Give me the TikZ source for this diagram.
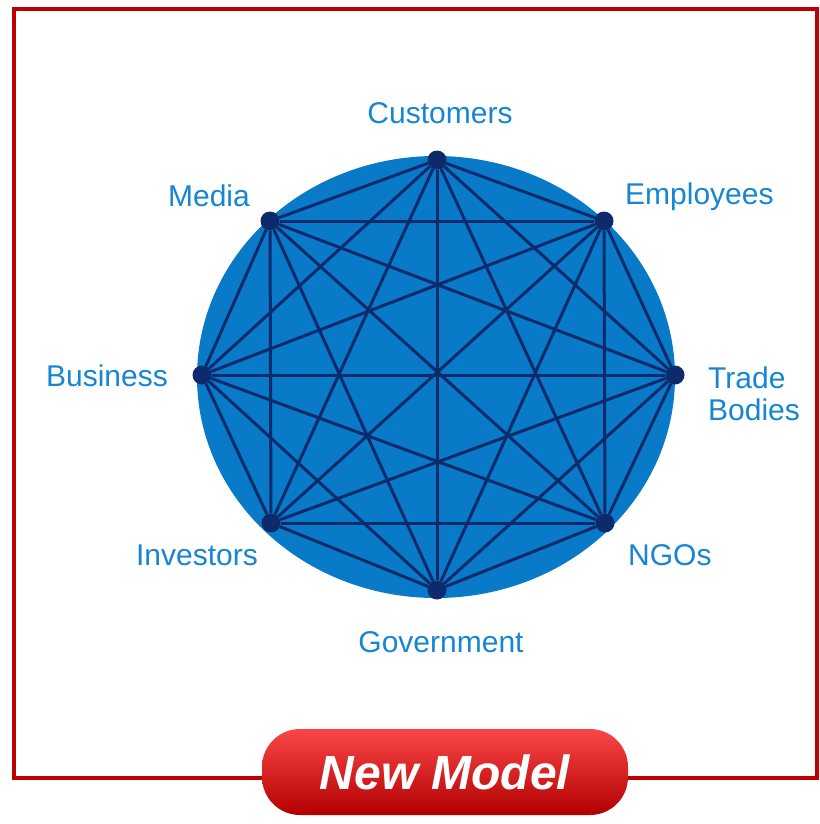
\documentclass[tikz,border=0pt]{standalone}
\usepackage{fontspec}
\setmainfont{Liberation Sans}
\usepackage{tikz}
\usetikzlibrary{shapes.geometric}

\definecolor{framered}{RGB}{190,0,0}
\definecolor{discblue}{RGB}{8,122,200}
\definecolor{edgenavy}{RGB}{12,42,108}
\definecolor{tagblue}{RGB}{22,134,212}
\definecolor{btntop}{RGB}{250,70,70}
\definecolor{btnbottom}{RGB}{178,0,0}

\tikzset{
    dot/.style = {circle, fill = edgenavy, inner sep = 0pt, minimum size = 19pt},
    link/.style = {edgenavy, line width = 3pt},
    tag/.style = {text = tagblue, font = \fontsize{30}{32}\selectfont, inner sep = 0pt},
    button/.style = {rounded corners = 38pt, top color = btntop, bottom color = btnbottom,
        minimum width = 366pt, minimum height = 86pt, text = white,
        font = \fontsize{48}{50}\selectfont\bfseries\itshape}
}

\begin{document}
\begin{tikzpicture}[x = 1pt, y = -1pt]
        \useasboundingbox (0, 0) rectangle (819, 824);
        \draw [framered, line width = 4pt] (14, 9) rectangle (817, 778);
        \fill [discblue] (436, 377) ellipse [x radius = 239, y radius = 221];
        % stakeholders on the ring
        \node [dot] (customers) at (437, 160) {};
        \node [dot] (employees) at (604, 221) {};
        \node [dot] (trade) at (675, 375) {};
        \node [dot] (ngos) at (605, 523) {};
        \node [dot] (government) at (437, 590) {};
        \node [dot] (investors) at (271, 523) {};
        \node [dot] (business) at (202, 375) {};
        \node [dot] (media) at (270, 221) {};
        % everyone linked to everyone
        \foreach \a [count = \i] in {customers, employees, trade, ngos, government, investors, business, media}
            \foreach \b [count = \j] in {customers, employees, trade, ngos, government, investors, business, media}
                {\ifnum\j>\i \draw [link] (\a) -- (\b); \fi}
        \node [tag, anchor = base] (customerstag) at (440, 124) {Customers};
        \node [tag, anchor = base west] (employeestag) at (625, 204) {Employees};
        \node [tag, anchor = base west, align = left] (tradetag) at (708, 420) {Trade\\Bodies};
        \node [tag, anchor = base west] (ngostag) at (628, 565) {NGOs};
        \node [tag, anchor = base] (governmenttag) at (441, 652) {Government};
        \node [tag, anchor = base east] (investorstag) at (258, 565) {Investors};
        \node [tag, anchor = base east] (businesstag) at (168, 386) {Business};
        \node [tag, anchor = base east] (mediatag) at (250, 206) {Media};
        \node [button] (model) at (445, 772) {New Model};
    \end{tikzpicture}
\end{document}
